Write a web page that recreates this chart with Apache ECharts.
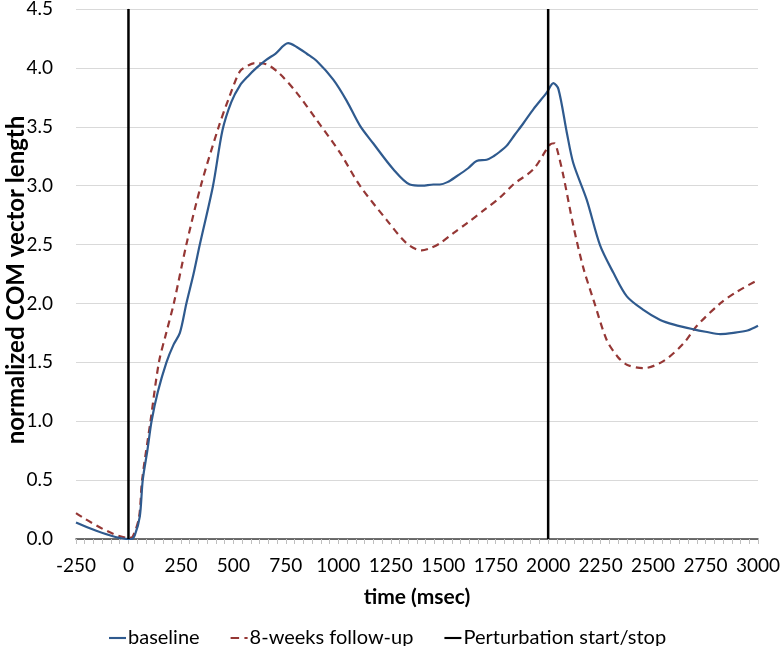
<!DOCTYPE html>
<html>
<head>
<meta charset="utf-8">
<script src="https://cdn.jsdelivr.net/npm/echarts@6/dist/echarts.min.js"></script>
<style>
html,body{margin:0;padding:0;background:#fff;}
#c{width:781px;height:646px;}
</style>
</head>
<body>
<div id="c"></div>
<script>
// time (msec)
const baselineX = [-250, 0, 15, 30, 54, 68, 90, 110, 140, 181, 215, 245, 276, 310, 340, 403, 448, 490, 531, 570, 610, 658, 700, 761, 800, 850, 896, 976, 1040, 1103, 1166, 1262, 1341, 1400, 1453, 1484, 1520, 1564, 1620, 1659, 1707, 1740, 1771, 1803, 1840, 1882, 1930, 1993, 2025, 2049, 2089, 2120, 2184, 2248, 2311, 2375, 2450, 2534, 2600, 2693, 2750, 2820, 2883, 2950, 3000];
const baselineY = [0.14, 0.0, 0.0, 0.03, 0.19, 0.5, 0.75, 1.0, 1.25, 1.5, 1.65, 1.75, 2.0, 2.25, 2.5, 3.0, 3.47, 3.71, 3.85, 3.93, 4.0, 4.07, 4.12, 4.21, 4.18, 4.12, 4.06, 3.9, 3.72, 3.51, 3.36, 3.14, 3.01, 3.0, 3.01, 3.01, 3.03, 3.08, 3.15, 3.21, 3.22, 3.25, 3.29, 3.34, 3.43, 3.53, 3.65, 3.79, 3.87, 3.82, 3.45, 3.19, 2.88, 2.49, 2.26, 2.06, 1.95, 1.86, 1.82, 1.78, 1.76, 1.74, 1.75, 1.77, 1.81];

const followX = [-250, 0, 20, 50, 65, 105, 145, 180, 216, 276, 345, 430, 480, 531, 570, 602, 658, 721, 801, 896, 1008, 1103, 1230, 1326, 1397, 1440, 1484, 1550, 1612, 1700, 1771, 1834, 1930, 2009, 2030, 2041, 2073, 2120, 2168, 2216, 2279, 2330, 2375, 2454, 2549, 2645, 2709, 2820, 2900, 3000];
const followY = [0.22, 0.01, 0.02, 0.18, 0.5, 1.0, 1.5, 1.75, 2.0, 2.5, 3.0, 3.5, 3.75, 3.97, 4.02, 4.04, 4.03, 3.95, 3.79, 3.56, 3.28, 3.0, 2.71, 2.51, 2.45, 2.47, 2.51, 2.6, 2.68, 2.8, 2.9, 3.01, 3.14, 3.35, 3.36, 3.32, 3.08, 2.66, 2.3, 2.03, 1.69, 1.55, 1.48, 1.45, 1.51, 1.66, 1.81, 2.0, 2.1, 2.2];

const perturbationTimes = [0, 2000];
const seriesNames = ['baseline', '8-weeks follow-up', 'Perturbation start/stop'];
const xTicks = {min: -250, max: 3000, interval: 250};
const yTicks = {min: 0, max: 4.5, interval: 0.5};

const zip = (xs, ys) => xs.map((x, i) => [x, ys[i]]);
const pertData = [];
perturbationTimes.forEach((t, i) => {
  if (i > 0) pertData.push('-');
  pertData.push([t, yTicks.min], [t, yTicks.max]);
});

const FONT = 'Lato';
const SOLID_ICON = 'path://M0,0H16V2H0Z';
const DASH_ICON = 'path://M0,0H8V2H0Z M13,0H16V2H13Z';
const chart = echarts.init(document.getElementById('c'), null, {renderer: 'canvas'});
chart.setOption({
  animation: false,
  backgroundColor: '#ffffff',
  textStyle: {fontFamily: FONT},
  grid: {left: 76, right: 23, top: 9, bottom: 107, containLabel: false, outerBoundsMode: 'none'},
  legend: {
    top: 623, left: 104,
    itemWidth: 17, itemHeight: 2.5, itemGap: 31,
    textStyle: {fontFamily: FONT, fontSize: 20, color: '#000', padding: [0, 0, 0, -3]},
    data: [
      {name: seriesNames[0], icon: SOLID_ICON},
      {name: seriesNames[1], icon: DASH_ICON},
      {name: seriesNames[2], icon: SOLID_ICON}
    ]
  },
  xAxis: {
    type: 'value', min: xTicks.min, max: xTicks.max, interval: xTicks.interval,
    name: 'time (msec)', nameLocation: 'middle', nameGap: 48, nameMoveOverlap: false,
    nameTextStyle: {fontFamily: FONT, fontSize: 21, fontWeight: 'bold', color: '#000'},
    axisLine: {show: true, onZero: false, lineStyle: {color: '#404040', width: 1.5}},
    axisTick: {show: true, length: 5, lineStyle: {color: '#bfbfbf'}},
    minorTick: {show: true, splitNumber: 6, length: 5, lineStyle: {color: '#bfbfbf'}},
    axisLabel: {fontFamily: FONT, fontSize: 19, color: '#000', margin: 17,
      formatter: v => String(v)},
    splitLine: {show: false}
  },
  yAxis: {
    type: 'value', min: yTicks.min, max: yTicks.max, interval: yTicks.interval,
    name: 'normalized COM vector length', nameLocation: 'middle', nameGap: 48, nameMoveOverlap: false,
    nameTextStyle: {fontFamily: FONT, fontSize: 24, fontWeight: 'bold', color: '#000', padding: [0, 12, 0, 0]},
    axisLine: {show: true, lineStyle: {color: '#d9d9d9', width: 1}},
    axisTick: {show: true, length: 8, lineStyle: {color: '#d9d9d9'}},
    axisLabel: {fontFamily: FONT, fontSize: 19, color: '#000', margin: 23,
      formatter: v => v.toFixed(1)},
    splitLine: {show: true, lineStyle: {color: '#d9d9d9', width: 1}}
  },
  series: [
    {name: seriesNames[0], type: 'line', data: zip(baselineX, baselineY), smooth: 0.3,
     symbol: 'none', z: 3, lineStyle: {color: '#2f5a8e', width: 2.2}, itemStyle: {color: '#2f5a8e'}},
    {name: seriesNames[1], type: 'line', data: zip(followX, followY), smooth: 0.3,
     symbol: 'none', z: 2, lineStyle: {color: '#953735', width: 2.2, type: [7, 5]}, itemStyle: {color: '#953735'}},
    {name: seriesNames[2], type: 'line', data: pertData, connectNulls: false,
     symbol: 'none', z: 4, lineStyle: {color: '#000', width: 2.5}, itemStyle: {color: '#000'}}
  ]
});
</script>
</body>
</html>
